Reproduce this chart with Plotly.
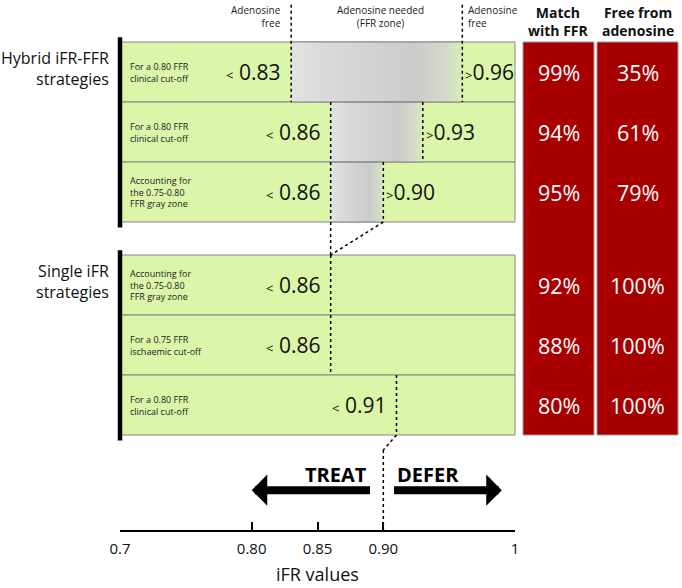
import plotly.graph_objects as go

# ---------------- data ----------------
group_labels = ["Hybrid iFR-FFR<br>strategies", "Single iFR<br>strategies"]
row_labels = [
    "For a 0.80 FFR<br>clinical cut-off",
    "For a 0.80 FFR<br>clinical cut-off",
    "Accounting for<br>the 0.75-0.80<br>FFR gray zone",
    "Accounting for<br>the 0.75-0.80<br>FFR gray zone",
    "For a 0.75 FFR<br>ischaemic cut-off",
    "For a 0.80 FFR<br>clinical cut-off",
]
row_group = [0, 0, 0, 1, 1, 1]
treat_cut = [0.83, 0.86, 0.86, 0.86, 0.86, 0.91]   # iFR below -> treat
defer_cut = [0.96, 0.93, 0.90, None, None, None]   # iFR above -> defer
match_ffr = [99, 94, 95, 92, 88, 80]
free_adenosine = [35, 61, 79, 100, 100, 100]
treat_defer_split = 0.90
tick_vals = [0.7, 0.80, 0.85, 0.90, 1.0]
tick_text = ["0.7", "0.80", "0.85", "0.90", "1"]
col_headers = ["Match<br>with FFR", "Free from<br>adenosine"]
x_title = "iFR values"

# ---------------- style ----------------
FONT = "Open Sans"
GREEN = "#dbf5a9"
RED = "#a80000"
GAP = 0.55          # vertical gap between the two strategy groups (row units)
W, H = 682, 588
ML, MR, MT, MB = 120, 167, 0, 58
plot_w = W - ML - MR
plot_h = H - MT - MB
def px(p):          # horizontal pixel -> paper coordinate
    return (p - ML) / plot_w

row_top = [i + (GAP if g == 1 else 0) for i, g in enumerate(row_group)]
row_mid = [t + 0.5 for t in row_top]
last = len(row_top) - 1
Y_TOP, Y_BOT = -0.7, 8.133

fig = go.Figure()
shapes, ann = [], []

# green rows
for t in row_top:
    shapes.append(dict(type="rect", xref="paper", yref="y", x0=0, x1=1, y0=t, y1=t + 1,
                       fillcolor=GREEN, line=dict(color="#858585", width=1), layer="below"))

# gray "adenosine needed" zones (horizontal gradient)
for t, a, b in zip(row_top, treat_cut, defer_cut):
    if b is None:
        continue
    fig.add_trace(go.Scatter(
        x=[a, b, b, a, a], y=[t, t, t + 1, t + 1, t], mode="lines", fill="toself",
        line=dict(width=0), hoverinfo="skip", showlegend=False,
        fillgradient=dict(type="horizontal",
                          colorscale=[[0, "#e3e3e3"], [0.2, "#dadada"], [0.72, "#cbcbcb"],
                                      [0.9, "#d4d8ca"], [1, "#d8eeb2"]])))
    shapes.append(dict(type="line", xref="x", yref="y", x0=a, x1=b, y0=t, y1=t,
                       line=dict(color="#858585", width=1)))
    shapes.append(dict(type="line", xref="x", yref="y", x0=a, x1=b, y0=t + 1, y1=t + 1,
                       line=dict(color="#858585", width=1)))

dot = dict(color="black", width=1.5, dash="dot")
# dotted cut lines
for i, (t, a, b) in enumerate(zip(row_top, treat_cut, defer_cut)):
    y0 = Y_TOP + 0.08 if i == 0 else t
    shapes.append(dict(type="line", xref="x", yref="y", x0=a, x1=a, y0=y0, y1=t + 1, line=dot))
    if b is not None:
        shapes.append(dict(type="line", xref="x", yref="y", x0=b, x1=b, y0=y0, y1=t + 1, line=dot))
# connectors across the group gap
for i in range(last):
    if row_group[i] != row_group[i + 1]:
        yb, yt = row_top[i] + 1, row_top[i + 1]
        shapes.append(dict(type="line", xref="x", yref="y", x0=treat_cut[i], x1=treat_cut[i + 1],
                           y0=yb, y1=yt, line=dot))
        if defer_cut[i] is not None and defer_cut[i + 1] is None:
            shapes.append(dict(type="line", xref="x", yref="y", x0=defer_cut[i], x1=treat_cut[i + 1],
                               y0=yb, y1=yt, line=dot))
# treat / defer split down to the axis
yb = row_top[last] + 1
shapes.append(dict(type="line", xref="x", yref="y", x0=treat_cut[last], x1=treat_defer_split,
                   y0=yb, y1=yb + 0.25, line=dot))
shapes.append(dict(type="line", xref="x", yref="y", x0=treat_defer_split, x1=treat_defer_split,
                   y0=yb + 0.25, y1=Y_BOT, line=dot))

# black group bars
for g in range(len(group_labels)):
    tops = [row_top[i] for i in range(len(row_top)) if row_group[i] == g]
    shapes.append(dict(type="line", xref="paper", yref="y", x0=0, x1=0,
                       y0=min(tops) - 0.08, y1=max(tops) + 1.09,
                       line=dict(color="black", width=4.5)))
    first = min(tops)
    ann.append(dict(xref="paper", yref="y", x=px(111), y=first + 0.5, yshift=4,
                    text=group_labels[g], showarrow=False, xanchor="right", align="right",
                    font=dict(family=FONT, size=16, color="#111")))

# red result columns
cols = [(523, 594), (597, 678)]
for (c0, c1), vals, head in zip(cols, [match_ffr, free_adenosine], col_headers):
    shapes.append(dict(type="rect", xref="paper", yref="y", x0=px(c0), x1=px(c1),
                       y0=row_top[0], y1=row_top[last] + 1, fillcolor=RED,
                       line=dict(color="#9a9a9a", width=1)))
    xc = px((c0 + c1) / 2)
    for m, v in zip(row_mid, vals):
        ann.append(dict(xref="paper", yref="y", x=xc, y=m, text=f"{v}%", showarrow=False,
                        xanchor="center",
                        font=dict(family=FONT, size=21.5, color="white")))
    ann.append(dict(xref="paper", yref="y", x=xc, y=-0.35, text=f"<b>{head}</b>",
                    showarrow=False, xanchor="center",
                    font=dict(family=FONT, size=14, color="#111")))

# row labels and thresholds
for lab, m, a, b in zip(row_labels, row_mid, treat_cut, defer_cut):
    ann.append(dict(xref="paper", yref="y", x=px(128), y=m, text=lab, showarrow=False,
                    xanchor="left", align="left", font=dict(family=FONT, size=9, color="#222")))
    ann.append(dict(xref="x", yref="y", x=a, y=m, xshift=-9, xanchor="right", showarrow=False,
                    text=f"<span style='font-size:13px'>&lt;</span> {a:.2f}",
                    font=dict(family=FONT, size=21, color="#111")))
    if b is not None:
        ann.append(dict(xref="x", yref="y", x=b, y=m, xshift=1, xanchor="left", showarrow=False,
                        text=f"<span style='font-size:13px'>&gt;</span>{b:.2f}",
                        font=dict(family=FONT, size=21, color="#111")))

# zone headers
hdr = dict(family=FONT, size=10, color="#222")
ann.append(dict(xref="x", yref="y", x=treat_cut[0], y=-0.42, xshift=-8, xanchor="right",
                align="right", text="Adenosine<br>free", showarrow=False, font=hdr))
ann.append(dict(xref="x", yref="y", x=(treat_cut[0] + defer_cut[0]) / 2, y=-0.42, xshift=4,
                xanchor="center", text="Adenosine needed<br>(FFR zone)", showarrow=False, font=hdr))
ann.append(dict(xref="x", yref="y", x=defer_cut[0], y=-0.42, xshift=4, xanchor="left",
                align="left", text="Adenosine<br>free", showarrow=False, font=hdr))

# treat / defer arrows
ya = 7.47
ann.append(dict(xref="x", yref="y", axref="x", ayref="y", x=0.80, y=ya,
                ax=treat_defer_split - 0.009, ay=ya, text="", showarrow=True,
                arrowhead=1, arrowsize=0.65, arrowwidth=8, arrowcolor="black"))
ann.append(dict(xref="x", yref="y", axref="x", ayref="y", x=0.99, y=ya,
                ax=treat_defer_split + 0.007, ay=ya, text="", showarrow=True,
                arrowhead=1, arrowsize=0.65, arrowwidth=8, arrowcolor="black"))
ann.append(dict(xref="x", yref="y", x=treat_defer_split, y=7.2, xshift=-14, xanchor="right",
                text="<b>TREAT</b>", showarrow=False, font=dict(family=FONT, size=20, color="black")))
ann.append(dict(xref="x", yref="y", x=treat_defer_split, y=7.2, xshift=12, xanchor="left",
                text="<b>DEFER</b>", showarrow=False, font=dict(family=FONT, size=20, color="black")))

# axis title (as annotation so it can sit at the very bottom)
ann.append(dict(xref="paper", yref="paper", x=0.5, y=-44 / plot_h, xanchor="center",
                yanchor="middle", text=x_title, showarrow=False,
                font=dict(family=FONT, size=18, color="#111")))

fig.update_layout(
    width=W, height=H, margin=dict(l=ML, r=MR, t=MT, b=MB),
    paper_bgcolor="white", plot_bgcolor="white", showlegend=False,
    shapes=shapes, annotations=ann,
    xaxis=dict(range=[0.7, 1.0], tickvals=tick_vals, ticktext=tick_text, ticks="inside",
               ticklen=8, tickwidth=1.5, tickcolor="black", showline=True, linecolor="black",
               linewidth=1.5, showgrid=False, zeroline=False, ticklabelstandoff=4,
               tickfont=dict(family=FONT, size=15, color="#111"),
               automargin=False, fixedrange=True),
    yaxis=dict(range=[Y_BOT, Y_TOP], visible=False, showgrid=False, zeroline=False,
               fixedrange=True),
)
fig.write_html("out.html", config={"displayModeBar": False},
               post_script="document.body.style.margin='0';document.body.style.overflow='hidden';")
